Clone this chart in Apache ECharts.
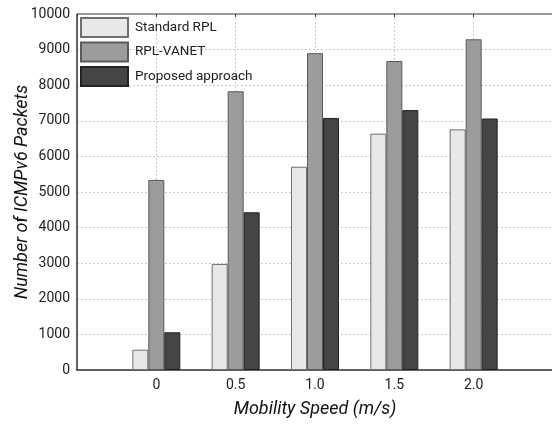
<!DOCTYPE html>
<html>
<head>
<meta charset="utf-8">
<script src="https://cdn.jsdelivr.net/npm/echarts@6/dist/echarts.min.js"></script>
<style>
  html, body { margin: 0; padding: 0; background: #fff; }
  #chart { width: 552px; height: 424px; }
</style>
</head>
<body>
<div id="chart"></div>
<script>
// mobility speeds (m/s); the outer two are empty padding slots of the axis
var speeds = ["-0.5", "0", "0.5", "1.0", "1.5", "2.0", "2.5"];
var standardRpl = [null, 570, 2980, 5710, 6640, 6760, null];
var rplVanet = [null, 5340, 7830, 8900, 8680, 9290, null];
var proposed = [null, 1060, 4430, 7080, 7300, 7065, null];

var font = "Roboto";
var chart = echarts.init(document.getElementById("chart"));

function hideEdge(v, i) {
  return i === 0 || i === speeds.length - 1 ? "" : v;
}

var gridLine = { show: true, lineStyle: { color: "#c8c8c8", type: [2, 2] } };

chart.setOption({
  animation: false,
  textStyle: { fontFamily: font },
  grid: { left: 77, right: -1, top: 14, bottom: 54, containLabel: false, outerBoundsMode: "none" },
  legend: {
    orient: "vertical",
    left: 75,
    top: 12,
    itemWidth: 47,
    itemHeight: 19,
    itemGap: 3.5,
    icon: "rect",
    textStyle: { fontSize: 13.5, color: "#222", fontFamily: font, padding: [0, 0, 0, 2] },
    data: ["Standard RPL", "RPL-VANET", "Proposed approach"]
  },
  xAxis: [
    {
      type: "category",
      data: speeds,
      boundaryGap: false,
      name: "Mobility Speed (m/s)",
      nameLocation: "middle",
      nameGap: 30,
      nameMoveOverlap: false,
      nameTextStyle: { fontSize: 18, fontStyle: "italic", color: "#111", fontFamily: font },
      axisLine: { lineStyle: { color: "#333", width: 1.5 } },
      axisTick: { show: false },
      axisLabel: { fontSize: 14, color: "#222", margin: 8, interval: 0, formatter: hideEdge },
      splitLine: { show: true, interval: 0, lineStyle: gridLine.lineStyle }
    },
    {
      type: "category",
      data: speeds,
      boundaryGap: false,
      position: "top",
      axisLine: { lineStyle: { color: "#999", width: 2 } },
      axisTick: { show: true, inside: true, length: 3, interval: 0, lineStyle: { color: "#333" } },
      axisLabel: { show: false },
      splitLine: { show: false }
    }
  ],
  yAxis: {
    type: "value",
    min: 0,
    max: 10000,
    interval: 1000,
    name: "Number of ICMPv6 Packets",
    nameLocation: "middle",
    nameGap: 46,
    nameMoveOverlap: false,
    nameTextStyle: { fontSize: 18, fontStyle: "italic", color: "#111", fontFamily: font },
    axisLine: { show: true, onZero: false, lineStyle: { color: "#333", width: 1.5 } },
    axisTick: { show: false },
    axisLabel: { fontSize: 14, color: "#222", margin: 7, formatter: function (v) { return String(v); } },
    splitLine: gridLine
  },
  series: [
    {
      name: "Standard RPL",
      type: "bar",
      barWidth: 16,
      barGap: "0%",
      itemStyle: { color: "#e8e8e8", borderColor: "#707070", borderWidth: 1 },
      data: standardRpl
    },
    {
      name: "RPL-VANET",
      type: "bar",
      barWidth: 16,
      barGap: "0%",
      itemStyle: { color: "#9c9c9c", borderColor: "#5a5a5a", borderWidth: 1 },
      data: rplVanet
    },
    {
      name: "Proposed approach",
      type: "bar",
      barWidth: 16,
      barGap: "0%",
      itemStyle: { color: "#444444", borderColor: "#222", borderWidth: 1 },
      data: proposed
    }
  ]
});
</script>
</body>
</html>
